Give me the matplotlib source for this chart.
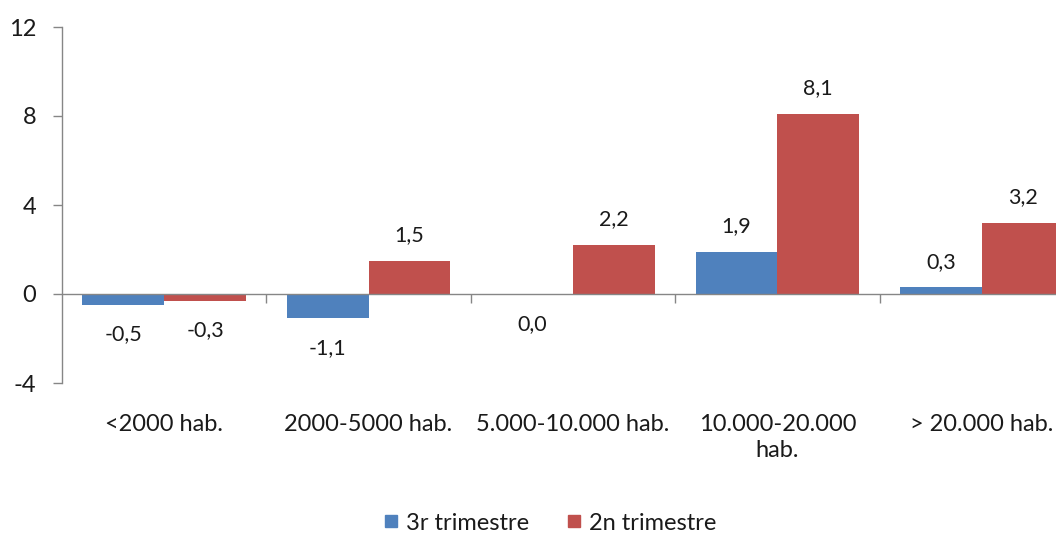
import matplotlib
matplotlib.use("Agg")
import matplotlib.pyplot as plt
from matplotlib.lines import Line2D
import numpy as np

categories = ["<2000 hab.", "2000-5000 hab.", "5.000-10.000 hab.", "10.000-20.000\nhab.", "> 20.000 hab."]
series_names = ["3r trimestre", "2n trimestre"]
values_3r = [-0.5, -1.1, -0.04, 1.9, 0.3]
values_2n = [-0.3, 1.5, 2.2, 8.1, 3.2]
yticks = [-4, 0, 4, 8, 12]

BLUE = "#4F81BD"
RED = "#C0504D"
GRAY = "#868686"
TXT = "#1a1a1a"

plt.rcParams['font.family'] = ['Lato', 'DejaVu Sans']

fig = plt.figure(figsize=(10.56, 5.34), dpi=100)
ax = fig.add_axes([62/1056, 151/534, 1022/1056, 356/534])

x = np.arange(len(categories))
w = 0.4
b1 = ax.bar(x - w/2, values_3r, w, color=BLUE, label=series_names[0], zorder=2)
b2 = ax.bar(x + w/2, values_2n, w, color=RED, label=series_names[1], zorder=2)

def fmt(v):
    s = f"{v:.1f}"
    if s == "-0.0":
        s = "0.0"
    return s.replace(".", ",")

LBL = 15.5
for bars, vals in ((b1, values_3r), (b2, values_2n)):
    for rect, v in zip(bars, vals):
        cx = rect.get_x() + rect.get_width()/2
        if v >= 0:
            ax.annotate(fmt(v), (cx, v), xytext=(0, 18.5), textcoords="offset points",
                        ha="center", va="center", fontsize=LBL, color=TXT)
        else:
            ax.annotate(fmt(v), (cx, v), xytext=(0, -21), textcoords="offset points",
                        ha="center", va="center", fontsize=LBL, color=TXT)

ax.set_xlim(-0.5, len(categories) - 0.5)
ax.set_ylim(-4, 12)
ax.set_yticks(yticks)
ax.set_yticklabels([str(t) for t in yticks], fontsize=17, color=TXT)
ax.tick_params(axis="y", direction="out", length=6.5, width=1, color=GRAY, pad=12)

ax.set_xticks(x)
ax.set_xticklabels(categories, fontsize=17, color=TXT, linespacing=1.3)
ax.tick_params(axis="x", length=0, pad=22)

for s in ("top", "right", "bottom"):
    ax.spines[s].set_visible(False)
ax.spines["left"].set_color(GRAY)
ax.spines["left"].set_linewidth(1)

ax.axhline(0, color=GRAY, lw=1, zorder=3)
bounds = np.arange(0.5, len(categories) - 0.5, 1.0)
ax.vlines(bounds, -0.4, 0, color=GRAY, lw=1, zorder=3)

handles = [Line2D([], [], marker="s", linestyle="none", markersize=8.6, color=BLUE),
           Line2D([], [], marker="s", linestyle="none", markersize=8.6, color=RED)]
fig.legend(handles, series_names, loc="center", bbox_to_anchor=(550/1056, 1 - 523/534),
           ncol=2, frameon=False, fontsize=17, handlelength=0.6, handletextpad=0.35,
           columnspacing=1.6, labelcolor=TXT, borderpad=0)

fig.savefig("out.png", dpi=100)
